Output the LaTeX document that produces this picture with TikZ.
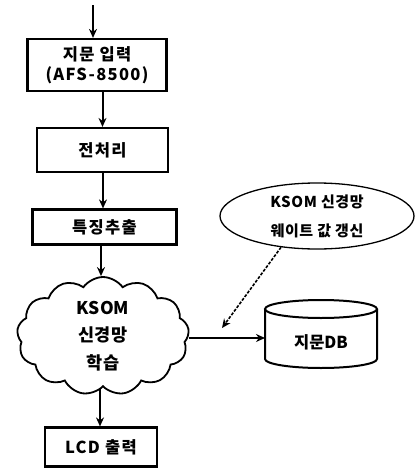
\documentclass[tikz,border=0pt]{standalone}
\usepackage{fontspec}
\setmainfont{Noto Sans CJK KR}
\usetikzlibrary{shapes.symbols,shapes.geometric,arrows.meta}
\begin{document}
\begin{tikzpicture}[x=1pt,y=-1pt,
  box/.style={draw,line width=2.2pt,rectangle,inner sep=0pt,align=center,font=\bfseries\fontsize{16.5}{20}\selectfont\addfontfeature{LetterSpace=8}},
  arr/.style={line width=2pt,-{Stealth[length=9pt,width=8pt]}},
  dotarr/.style={line width=1.6pt,dash pattern=on 3pt off 1.5pt,-{Stealth[length=9pt,width=8pt]}}]
\useasboundingbox (0,0) rectangle (416,469);
\node[box,minimum width=139pt,minimum height=52pt] (b1) at (97,65) {지문 입력\\(AFS-8500)};
\node[box,minimum width=131pt,minimum height=44pt] (b2) at (102.5,150) {전처리};
\node[box,minimum width=144pt,minimum height=35pt] (b3) at (104.5,227) {특징추출};
\node[draw,line width=1.8pt,cloud,cloud puffs=13,cloud puff arc=110,aspect=1.5,minimum width=172pt,minimum height=118pt,inner sep=0pt,align=center,font=\bfseries\fontsize{17.5}{27.5}\selectfont] (cl) at (103,336) {KSOM\\신경망\\학습};
\node[box,minimum width=112pt,minimum height=39pt] (b4) at (101,447) {LCD 출력};
\node[draw,ellipse,line width=1.3pt,minimum width=194pt,minimum height=66pt,inner sep=0pt,align=center,font=\bfseries\fontsize{15}{29}\selectfont\addfontfeature{LetterSpace=4}] (el) at (317,216) {KSOM 신경망\\웨이트 값 갱신};
% cylinder
\draw[line width=2pt] (265,309) -- (265,359) arc[start angle=180,end angle=360,x radius=56pt,y radius=9pt] -- (377,309);
\draw[line width=2pt] (321,309) ellipse[x radius=56pt,y radius=9pt];
\node[inner sep=0pt,font=\bfseries\fontsize{16.5}{18}\selectfont] (db) at (321,342) {지문DB};
\coordinate (dbl) at (265,338);
\coordinate (top) at (93,5);
\coordinate (tip) at (222,328);
\draw[arr] (top) -- (top |- b1.north);
\draw[arr] (b2.north |- b1.south) -- (b2.north);
\draw[arr] (b2.south -| 103,0) -- (b3.north -| 103,0);
\draw[arr] (b3.south -| 101,0) -- (cl.north -| 101,0);
\draw[arr] (cl.south -| 100,0) -- (b4.north -| 100,0);
\draw[arr] (cl.east |- dbl) -- (dbl);
\draw[dotarr] (el.221) -- (tip);
\end{tikzpicture}
\end{document}
